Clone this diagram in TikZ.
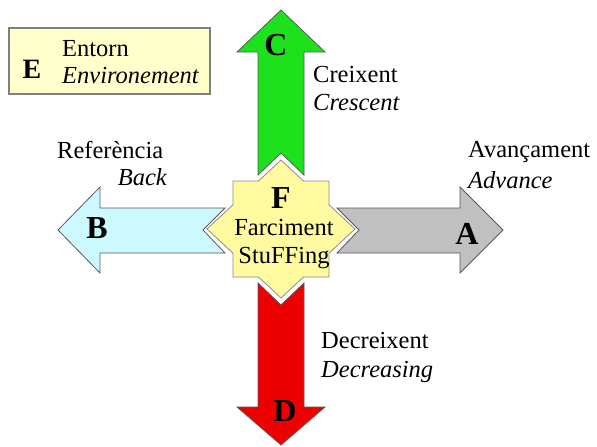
\documentclass[tikz,border=0pt]{standalone}
\usepackage{fontspec}
\setmainfont{Liberation Serif}
\definecolor{crgreen}{RGB}{30,225,30}
\definecolor{dcred}{RGB}{238,0,0}
\definecolor{bkblue}{RGB}{204,248,255}
\definecolor{avgray}{RGB}{192,192,192}
\definecolor{stuffyellow}{RGB}{255,250,160}
\definecolor{envyellow}{RGB}{255,255,204}

\begin{document}
\begin{tikzpicture}[x=1pt, y=-1pt,
	arrow/.style={draw=black!65, line width=0.8pt, line join=miter},
	lbl/.style={font=\fontsize{24.5}{27}\selectfont, inner sep=0pt},
	big/.style={font=\fontsize{32}{34}\selectfont\bfseries, inner sep=0pt}]
	\useasboundingbox (0,0) rectangle (597,447);
	\draw[line width=1.2pt, draw=black!50, fill=envyellow] (9,28) rectangle (210,94);
	\node[big, font=\fontsize{28}{30}\selectfont\bfseries] (env) at (32,69) {E};
	\node[lbl, anchor=base west] (entorn) at (62,56) {Entorn};
	\node[lbl, anchor=base west] (environ) at (62,83) {\itshape Environement};
	\draw[arrow, fill=crgreen] (281,10) -- (325,52) -- (304,52) -- (304,175) -- (281,153) -- (258,175) -- (258,52) -- (237,52) -- cycle;
	\draw[arrow, fill=dcred] (281,445) -- (325,407) -- (304,407) -- (304,283) -- (281,305) -- (258,283) -- (258,407) -- (237,407) -- cycle;
	\draw[arrow, fill=bkblue] (58,230) -- (100,187) -- (100,208) -- (225,208) -- (203,230) -- (225,253) -- (100,253) -- (100,273) -- cycle;
	\draw[arrow, fill=avgray] (503,230) -- (460,187) -- (460,208) -- (337,208) -- (359,230) -- (337,253) -- (460,253) -- (460,273) -- cycle;
	\draw[line width=0.8pt, draw=black!45, fill=stuffyellow, shift={(281,229)}] (0,-69) -- (22.5,-48) -- (48,-48) -- (48,-24.2) -- (74,0) -- (48,24.2) -- (48,48) -- (22.5,48) -- (0,69) -- (-22.5,48) -- (-48,48) -- (-48,24.2) -- (-74,0) -- (-48,-24.2) -- (-48,-48) -- (-22.5,-48) -- cycle;
	\node[big] (c) at (276,45) {C};
	\node[big] (d) at (285,411) {D};
	\node[big] (b) at (97,228) {B};
	\node[big] (a) at (467,234) {A};
	\node[big] (f) at (281,198) {F};
	\node[lbl, anchor=base] (farciment) at (284,235) {Farciment};
	\node[lbl, anchor=base] (stuffing) at (284,263) {StuFFing};
	\node[lbl, anchor=base west] (creixent) at (313,82) {Creixent};
	\node[lbl, anchor=base west] (crescent) at (313,110) {\itshape Crescent};
	\node[lbl, anchor=base west] (referencia) at (57,158) {Referència};
	\node[lbl, anchor=base east] (back) at (167,185) {\itshape Back};
	\node[lbl, anchor=base west] (avancament) at (468,157) {Avançament};
	\node[lbl, anchor=base west] (advance) at (468,188) {\itshape Advance};
	\node[lbl, anchor=base west] (decreixent) at (321,348) {Decreixent};
	\node[lbl, anchor=base west] (decreasing) at (321,377) {\itshape Decreasing};
\end{tikzpicture}
\end{document}
